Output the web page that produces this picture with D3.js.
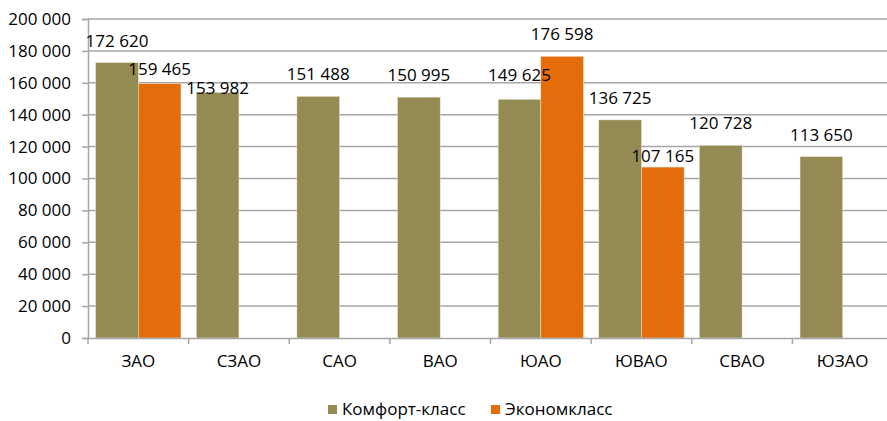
<!DOCTYPE html>
<html>
<head>
<meta charset="utf-8">
<script src="https://cdn.jsdelivr.net/npm/d3@7"></script>
<style>
  body { margin: 0; background: white; overflow: hidden; }
  text { font-family: 'Open Sans', sans-serif; fill: #000; }
</style>
</head>
<body>
<div class="canvas"></div>
<script>
// data
const districts = ["ЗАО", "СЗАО", "САО", "ВАО", "ЮАО", "ЮВАО", "СВАО", "ЮЗАО"];
const seriesNames = ["Комфорт-класс", "Экономкласс"];
const comfort = [172620, 153982, 151488, 150995, 149625, 136725, 120728, 113650];
const economy = [159465, null, null, null, 176598, 107165, null, null];
const yTicks = [0, 20000, 40000, 60000, 80000, 100000, 120000, 140000, 160000, 180000, 200000];
const colors = ["#948A54", "#E46C0A"];

// label nudges where the original labels were shifted to avoid overlap
const nudge = {"159465": 7, "153982": 18, "107165": 11, "149625": -2};

const width = 887, height = 421;
// plot area runs a little past the right edge (the original is cropped there)
const margin = {top: 19, bottom: 83, left: 88, right: -6};
const fontSize = "17px";

const svg = d3.select('.canvas')
  .append('svg')
    .attr('width', width)
    .attr('height', height)
    .style("display", "block");

const x0 = d3.scaleBand()
  .domain(districts)
  .range([margin.left, width - margin.right]);

const x1 = d3.scaleBand()
  .domain(seriesNames)
  .range([0, x0.bandwidth()])
  .paddingOuter(0.18);

const y = d3.scaleLinear()
  .domain([0, 200000])
  .range([height - margin.bottom, margin.top]);

const fmt = v => d3.format(",")(v).replace(/,/g, " ");

// gridlines
svg.append("g")
  .selectAll("line")
  .data(yTicks.slice(1))
  .enter().append("line")
    .attr("x1", margin.left)
    .attr("x2", width - margin.right)
    .attr("y1", d => y(d))
    .attr("y2", d => y(d))
    .attr("stroke", "#A6A6A6")
    .attr("stroke-width", 1.5);

// Y axis
const yAxis = svg.append("g")
  .attr("transform", `translate(${margin.left},0)`)
  .call(d3.axisLeft(y).tickValues(yTicks).tickFormat(fmt).tickSize(6).tickPadding(11));
yAxis.select(".domain").attr("stroke", "#A6A6A6").attr("stroke-width", 1.5);
yAxis.selectAll(".tick line").attr("stroke", "#A6A6A6").attr("stroke-width", 1.5);
yAxis.selectAll("text")
  .style("font-family", "'Open Sans', sans-serif")
  .style("font-size", fontSize)
  .attr("fill", "#000");

// bars
const cells = [];
districts.forEach((d, i) => {
  [comfort[i], economy[i]].forEach((v, j) => {
    if (v != null) cells.push({district: d, name: seriesNames[j], value: v, j: j});
  });
});

svg.append("g")
  .selectAll("rect")
  .data(cells)
  .enter().append("rect")
    .attr("x", d => x0(d.district) + x1(d.name))
    .attr("width", x1.bandwidth())
    .attr("y", d => y(d.value))
    .attr("height", d => y(0) - y(d.value))
    .attr("fill", d => colors[d.j])
    .attr("stroke", "#E8E2CC")
    .attr("stroke-width", 0.5);

// value labels on top of all bars
svg.append("g")
  .selectAll("text")
  .data(cells)
  .enter().append("text")
    .attr("x", d => x0(d.district) + x1(d.name) + x1.bandwidth() / 2)
    .attr("y", d => y(d.value) - 16 + (nudge[d.value] || 0))
    .attr("text-anchor", "middle")
    .style("font-size", fontSize)
    .text(d => fmt(d.value));

// X axis
const xAxis = svg.append("g")
  .attr("transform", `translate(0,${y(0)})`)
  .call(d3.axisBottom(x0).tickSize(0).tickPadding(17));
xAxis.select(".domain").attr("stroke", "#A6A6A6").attr("stroke-width", 1.5);
xAxis.selectAll("text")
  .style("font-family", "'Open Sans', sans-serif")
  .style("font-size", fontSize)
  .attr("fill", "#000");

// category separators on x axis
svg.append("g")
  .selectAll("line")
  .data(districts)
  .enter().append("line")
    .attr("x1", d => x0(d))
    .attr("x2", d => x0(d))
    .attr("y1", y(0))
    .attr("y2", y(0) + 6)
    .attr("stroke", "#A6A6A6")
    .attr("stroke-width", 1.5);

// legend
const legendX = [328, 491];
const legend = svg.append("g")
  .selectAll("g")
  .data(seriesNames)
  .enter().append("g")
    .attr("transform", (d, i) => `translate(${legendX[i]},404)`);
legend.append("rect")
  .attr("y", 1)
  .attr("width", 9)
  .attr("height", 9)
  .attr("fill", (d, i) => colors[i]);
legend.append("text")
  .attr("x", 14)
  .attr("y", 11)
  .style("font-size", fontSize)
  .text(d => d);
</script>
</body>
</html>
